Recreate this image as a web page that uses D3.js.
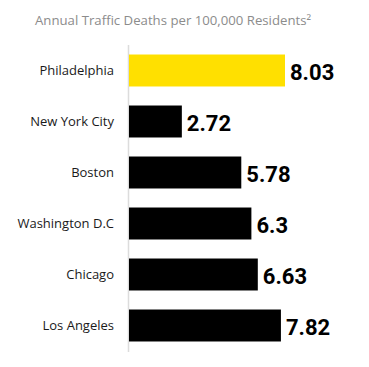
<!DOCTYPE html>
<html>
<head>
<meta charset="utf-8">
<script src="https://cdn.jsdelivr.net/npm/d3@7"></script>
<style>
  body { margin: 0; background: #fff; }
  svg { display: block; }
</style>
</head>
<body id="body">
<svg></svg>
<script>
var width = 369;
var height = 367;

var cities = ["Philadelphia", "New York City", "Boston", "Washington D.C", "Chicago", "Los Angeles"];
var deaths = [8.03, 2.72, 5.78, 6.3, 6.63, 7.82];
var labels = ["8.03", "2.72", "5.78", "6.3", "6.63", "7.82"];
var highlight = "Philadelphia";

var data = cities.map(function (c, i) {
  return {city: c, value: deaths[i], label: labels[i]};
});

var svg = d3.select("svg")
  .attr("width", width)
  .attr("height", height);

var x = d3.scaleLinear()
  .domain([0, 8.03])
  .range([129, 285]);

var pi = 0.373;
var y = d3.scaleBand()
  .domain(cities)
  .range([45, 351])
  .paddingInner(pi)
  .paddingOuter(pi / 2);

svg.append("text")
  .attr("x", 35)
  .attr("y", 25)
  .attr("font-family", "Open Sans")
  .attr("font-size", 13.2)
  .attr("fill", "#8c8c8c")
  .text("Annual Traffic Deaths per 100,000 Residents²");

svg.append("line")
  .attr("x1", 128.5)
  .attr("x2", 128.5)
  .attr("y1", 45)
  .attr("y2", 352)
  .attr("stroke", "#dcdcdc")
  .attr("stroke-width", 1.5);

svg.append("g")
  .selectAll("rect")
  .data(data)
  .enter().append("rect")
  .attr("x", x(0))
  .attr("y", function (d) { return y(d.city); })
  .attr("width", function (d) { return x(d.value) - x(0); })
  .attr("height", y.bandwidth())
  .attr("fill", function (d) {
    return d.city === highlight ? "#ffe000" : "#000";
  });

svg.append("g")
  .selectAll("text")
  .data(data)
  .enter().append("text")
  .attr("x", 114)
  .attr("y", function (d) { return y(d.city) + y.bandwidth() / 2; })
  .attr("dy", "0.35em")
  .attr("text-anchor", "end")
  .attr("font-family", "Open Sans")
  .attr("font-size", 13)
  .attr("fill", "#1a1a1a")
  .text(function (d) { return d.city; });

svg.append("g")
  .selectAll("text")
  .data(data)
  .enter().append("text")
  .attr("x", function (d) { return x(d.value) + 5; })
  .attr("y", function (d) { return y(d.city) + y.bandwidth() / 2 + 9.5; })
  .attr("font-family", "Roboto")
  .attr("font-weight", 700)
  .attr("font-size", 22)
  .attr("fill", "#000")
  .text(function (d) { return d.label; });
</script>
</body>
</html>
